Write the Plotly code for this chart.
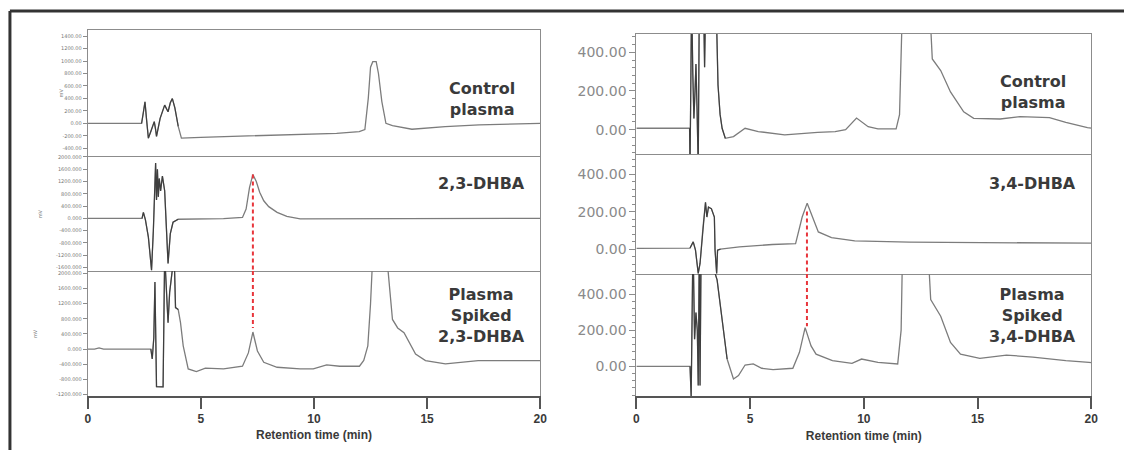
import plotly.graph_objects as go

W, H = 1131, 452

# ---------------- data (retention time in min, detector response) ----------------
# Left column: 2,3-DHBA
lt_t = [0, 2.38, 2.45, 2.53, 2.6, 2.68, 2.8, 2.94, 3.0, 3.04, 3.2, 3.4, 3.55, 3.65, 3.74, 3.85, 4.0, 4.14,
        5.0, 7.0, 9.4, 11.0, 12.0, 12.25, 12.4, 12.5, 12.6, 12.75, 12.85, 13.0, 13.18, 13.47, 14.33, 15.8, 17.3, 20]
lt_v = [0, 0, 150, 344, 60, -238, -120, 27, -100, -211, 80, 292, 186, 330, 397, 250, -50, -238,
        -225, -205, -180, -160, -132, -100, 400, 900, 990, 990, 800, 350, 0, -37, -95, -52, -26, 0]

lm_t = [0, 2.4, 2.46, 2.55, 2.68, 2.82, 2.9, 3.0, 3.04, 3.08, 3.12, 3.16, 3.22, 3.3, 3.4, 3.55, 3.65, 3.77,
        4.0, 5.0, 6.0, 6.84, 7.0, 7.15, 7.3, 7.45, 7.6, 7.78, 8.0, 8.37, 8.8, 9.39, 12, 16, 20]
lm_v = [0, 0, 194, -50, -613, -1690, -400, 1806, 600, 1600, 700, 1300, 893, 1377, 900, -1471, -500, -129,
        -30, -25, -10, 30, 300, 1000, 1432, 1200, 850, 571, 380, 194, 60, -20, -10, -5, 0]

lb_t = [0, 0.3, 0.5, 0.7, 2.79, 2.85, 2.92, 2.97, 3.04, 3.33, 3.4, 3.5, 3.55, 3.62, 3.77, 3.82, 3.88, 4.0,
        4.1, 4.22, 4.44, 4.8, 5.2, 6.0, 6.84, 7.1, 7.3, 7.5, 7.78, 8.37, 9.39, 9.97, 10.56, 11.14, 12.01,
        12.2, 12.38, 12.5, 12.6, 13.1, 13.21, 13.47, 13.7, 13.98, 14.2, 14.49, 14.93, 15.81, 17.26, 20]
lb_v = [0, 0, 30, 0, 0, -261, 300, 1777, -993, -1000, 2500, 1200, 697, 1500, 2500, 2500, 1098, 1045,
        700, 87, -523, -593, -505, -523, -452, -100, 452, -50, -348, -479, -523, -523, -418, -453, -453,
        -300, 87, 1200, 2500, 2500, 2500, 784, 560, 436, 200, -131, -305, -392, -305, -305]

# Right column: 3,4-DHBA
rt_t = [0, 2.34, 2.36, 2.4, 2.43, 2.48, 2.53, 2.58, 2.62, 2.67, 2.72, 2.77, 2.85, 2.95, 3.0, 3.05, 3.2,
        3.39, 3.5, 3.59, 3.68, 3.77, 3.91, 4.27, 4.78, 5.36, 6.52, 7.97, 8.74, 9.2, 9.68, 10.19, 10.62,
        11.42, 11.57, 11.71, 12.3, 12.87, 13.01, 13.38, 13.81, 14.39, 14.83, 15.99, 16.86, 18.16, 18.88, 19.83, 20]
rt_v = [7, 7, -200, 300, 700, 300, 58, 200, 340, 100, -200, 700, 700, 700, 323, 700, 700,
        700, 700, 231, 80, 7, -45, -36, 7, -10, -27, -14, -10, 0, 60, 15, 4,
        4, 77, 700, 900, 700, 366, 306, 195, 92, 58, 55, 67, 62, 37, 10, 8]

rm_t = [0, 1.0, 2.36, 2.5, 2.6, 2.72, 2.8, 2.93, 3.04, 3.1, 3.17, 3.3, 3.43, 3.46, 3.53, 3.57, 3.7, 4.53,
        5.98, 7.0, 7.29, 7.51, 7.72, 8.0, 8.58, 9.6, 12, 16, 20]
rm_v = [4, 4, 6, 39, -5, -129, -76, 118, 250, 171, 224, 215, 171, -5, -129, -5, 0, 12,
        25, 30, 171, 245, 180, 92, 62, 44, 37, 34, 32]

rb_t = [0, 2.36, 2.41, 2.49, 2.56, 2.62, 2.68, 2.72, 2.77, 2.8, 2.85, 3.0, 3.55, 3.77, 3.99, 4.27, 4.49,
        4.78, 5.14, 5.51, 6.01, 6.88, 7.17, 7.42, 7.68, 7.9, 8.62, 9.48, 9.9, 10.62, 11.49, 11.64, 11.71,
        12.3, 12.8, 12.94, 13.38, 13.81, 14.25, 15.1, 16.27, 17.43, 18.88, 19.9, 20]
rb_v = [0, 0, -170, 700, 150, 297, 200, -106, 700, -106, 700, 700, 478, 259, 40, -70, -51,
        7, 13, -11, -18, -11, 77, 214, 113, 67, 31, 16, 40, 22, 13, 200, 700,
        900, 700, 369, 277, 132, 67, 44, 62, 51, 31, 22, 20]

# peak retention times marked by dashed lines
rt_23 = 7.3
rt_34 = 7.5
peak_23_mid, peak_23_bot = 1432, 560
peak_34_mid, peak_34_bot = 200, 222

# solvent-front window drawn darker (min)
front_window = [2.3, 4.0]

# axis ranges and tick labels
lt_range, lm_range, lb_range = [-529, 1503], [-1719, 2023], [-1229, 2065]
rt_range, rm_range, rb_range = [-128, 497], [-132, 505], [-164, 511]
lt_ticks = [-400, -200, 0, 200, 400, 600, 800, 1000, 1200, 1400]
lt_text = ["-400.00", "-200.00", "0.00", "200.00", "400.00", "600.00", "800.00", "1000.00", "1200.00", "1400.00"]
lm_ticks = [-1600, -1200, -800, -400, 0, 400, 800, 1200, 1600, 2000]
lm_text = ["-1600.000", "-1200.000", "-800.000", "-400.000", "0.000", "400.000", "800.000", "1200.000", "1600.000", "2000.000"]
lb_ticks = [-1200, -800, -400, 0, 400, 800, 1200, 1600, 2000]
lb_text = ["-1200.000", "-800.000", "-400.000", "0.000", "400.000", "800.000", "1200.000", "1600.000", "2000.000"]
r_ticks = [0, 200, 400]
r_text = ["0.00", "200.00", "400.00"]
x_ticks = [0, 5, 10, 15, 20]

labels = ["Control<br>plasma", "2,3-DHBA", "Plasma<br>Spiked<br>2,3-DHBA",
          "Control<br>plasma", "3,4-DHBA", "Plasma<br>Spiked<br>3,4-DHBA"]

# ---------------- layout geometry ----------------
def xd(a, b):
    return [a / W, b / W]

def yd(top, bot):
    return [1 - bot / H, 1 - top / H]

XL, XR = xd(85.5, 542), xd(639, 1098)
panels = [  # (xdomain, ydomain, yrange)
    (XL, yd(27, 155), lt_range),
    (XL, yd(155, 271), lm_range),
    (XL, yd(271, 397), lb_range),
    (XR, yd(31, 153), rt_range),
    (XR, yd(153, 274), rm_range),
    (XR, yd(274, 397.3), rb_range),
]
series = [(lt_t, lt_v), (lm_t, lm_v), (lb_t, lb_v), (rt_t, rt_v), (rm_t, rm_v), (rb_t, rb_v)]

LINE = "#7c7c7c"
DARK = "#2a2a2a"
FRAME = "#8c8c8c"
TXT = "#3a3a3a"

fig = go.Figure()
for i, (t, v) in enumerate(series):
    n = "" if i == 0 else str(i + 1)
    fig.add_trace(go.Scatter(x=t, y=v, mode="lines", line=dict(color=LINE, width=1.3),
                             xaxis="x" + n, yaxis="y" + n, showlegend=False, hoverinfo="skip"))
    idx = [k for k, tt in enumerate(t) if front_window[0] <= tt <= front_window[1]]
    fig.add_trace(go.Scatter(x=[t[k] for k in idx], y=[v[k] for k in idx], mode="lines",
                             line=dict(color=DARK, width=1.2), opacity=0.75,
                             xaxis="x" + n, yaxis="y" + n, showlegend=False, hoverinfo="skip"))

# dashed peak markers
red = dict(color="#e8353b", width=2, dash="4px,3px")
fig.add_trace(go.Scatter(x=[rt_23, rt_23], y=[peak_23_mid, lm_range[0]], mode="lines", line=red,
                         xaxis="x2", yaxis="y2", showlegend=False))
fig.add_trace(go.Scatter(x=[rt_23, rt_23], y=[lb_range[1], peak_23_bot], mode="lines", line=red,
                         xaxis="x3", yaxis="y3", showlegend=False))
fig.add_trace(go.Scatter(x=[rt_34, rt_34], y=[peak_34_mid, rm_range[0]], mode="lines", line=red,
                         xaxis="x5", yaxis="y5", showlegend=False))
fig.add_trace(go.Scatter(x=[rt_34, rt_34], y=[rb_range[1], peak_34_bot], mode="lines", line=red,
                         xaxis="x6", yaxis="y6", showlegend=False))

layout = dict(width=W, height=H, margin=dict(l=0, r=0, t=0, b=0),
              paper_bgcolor="white", plot_bgcolor="white", showlegend=False,
              font=dict(family="DejaVu Sans", color=TXT))

ytick_sets = [(lt_ticks, lt_text), (lm_ticks, lm_text), (lb_ticks, lb_text),
              (r_ticks, r_text), (r_ticks, r_text), (r_ticks, r_text)]

for i, (xdom, ydom, yr) in enumerate(panels):
    n = "" if i == 0 else str(i + 1)
    bottom = i in (2, 5)
    top = i in (0, 3)
    xa = dict(domain=xdom, range=[0, 20], anchor="y" + n, showgrid=False, zeroline=False,
              showline=True, linecolor=FRAME, linewidth=1, mirror=top, fixedrange=True)
    if bottom:
        xa.update(tickmode="array", tickvals=x_ticks, ticks="outside", ticklen=11, tickwidth=1.5,
                  tickcolor="#555", linecolor="#555", linewidth=2,
                  tickfont=dict(family="Liberation Sans", size=12, weight="bold", color=TXT),
                  title=dict(text="Retention time (min)", standoff=6,
                             font=dict(family="Liberation Sans", size=12, weight="bold", color=TXT)))
    else:
        xa.update(showticklabels=False, ticks="")
    tv, tt = ytick_sets[i]
    ya = dict(domain=ydom, range=yr, anchor="x" + n, showgrid=False, zeroline=False,
              showline=True, linecolor=FRAME, linewidth=1, mirror=True,
              tickmode="array", tickvals=tv, ticktext=tt, ticks="outside", tickcolor=FRAME, fixedrange=True)
    if i < 3:
        ya.update(ticklen=4, tickfont=dict(size=5, color="#777"))
    else:
        ya.update(ticklen=6, tickfont=dict(size=14, color="#8a8a8a"),
                  minor=dict(tickmode="linear", tick0=0, dtick=40, ticks="outside", ticklen=3,
                             tickcolor=FRAME))
    layout["xaxis" + n] = xa
    layout["yaxis" + n] = ya

fig.update_layout(**layout)

# panel labels
label_pos = [0.453, 0.759, 0.64, 0.52, 0.752, 0.66]
for i, txt in enumerate(labels):
    n = "" if i == 0 else str(i + 1)
    fig.add_annotation(text=txt, xref="x" + n + " domain", yref="y" + n + " domain",
                       x=0.871, y=label_pos[i], xanchor="center", yanchor="middle",
                       showarrow=False, align="center",
                       font=dict(family="DejaVu Sans", size=16, weight="bold", color=TXT))

# tiny detector unit labels on left column
for i, px in enumerate([59, 37, 33]):
    n = "" if i == 0 else str(i + 1)
    fig.add_annotation(text="mV", xref="paper", yref="y" + n + " domain", x=px / W, y=0.5,
                       xanchor="center", yanchor="middle",
                       showarrow=False, textangle=-90, font=dict(size=5, color="#777"))

# outer frame (top and left edges)
fig.add_shape(type="line", xref="paper", yref="paper", x0=7 / W, x1=1, y0=1 - 8 / H, y1=1 - 8 / H,
              line=dict(color="#333", width=3))
fig.add_shape(type="line", xref="paper", yref="paper", x0=7 / W, x1=7 / W, y0=0, y1=1 - 8 / H,
              line=dict(color="#333", width=3))

fig.write_html("out.html", post_script=(
    "document.documentElement.style.overflow='hidden';"
    "document.body.style.overflow='hidden';document.body.style.margin='0';"))
